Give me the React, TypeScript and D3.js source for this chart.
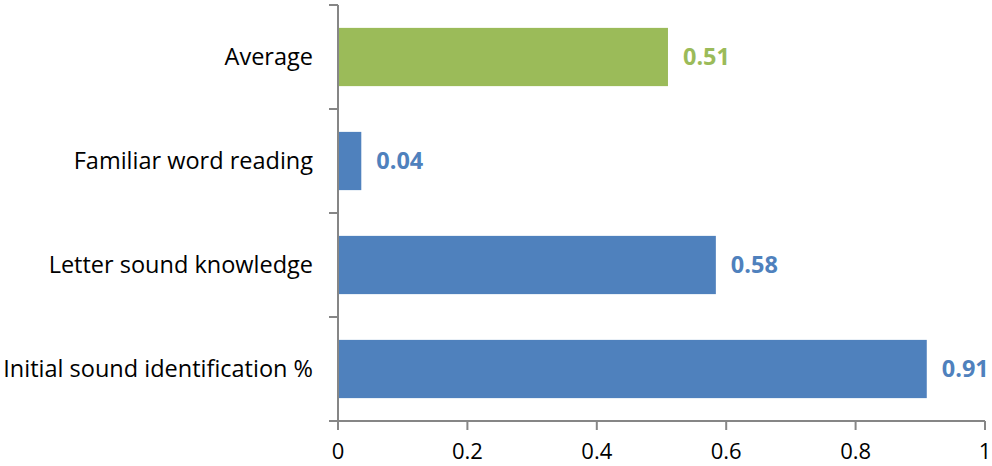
import { useEffect, useRef } from "react";
import * as d3 from "d3";

const categories = ["Average", "Familiar word reading", "Letter sound knowledge", "Initial sound identification %"];
const values = [0.51, 0.036, 0.584, 0.91];
const barColors = ["#9BBB59", "#4F81BD", "#4F81BD", "#4F81BD"];
const xTicks = [0, 0.2, 0.4, 0.6, 0.8, 1];

export default function App() {
  const svgRef = useRef<SVGSVGElement>(null);

  useEffect(() => {
    if (!svgRef.current) return;
    const svg = d3.select(svgRef.current);
    svg.selectAll("*").remove();

    const left = 338, right = 985, top = 5, bottom = 421;
    const font = "'Open Sans', sans-serif";

    const x = d3.scaleLinear().domain([0, 1]).range([left, right]);
    const y = d3.scaleBand().domain(categories).range([top, bottom]).paddingInner(0.44).paddingOuter(0.22);
    const yEdges = d3.scaleLinear().domain([0, categories.length]).range([top, bottom]);

    // bars
    svg.selectAll("rect.bar")
      .data(categories)
      .enter()
      .append("rect")
      .attr("x", x(0))
      .attr("y", d => y(d)!)
      .attr("width", (_, i) => x(values[i]) - x(0))
      .attr("height", y.bandwidth())
      .attr("fill", (_, i) => barColors[i]);

    // value labels
    svg.selectAll("text.val")
      .data(categories)
      .enter()
      .append("text")
      .attr("x", (_, i) => x(values[i]) + 15)
      .attr("y", d => y(d)! + y.bandwidth() / 2)
      .attr("dy", "0.36em")
      .attr("font-family", font)
      .attr("font-weight", "bold")
      .attr("font-size", 23.5)
      .attr("fill", (_, i) => barColors[i])
      .text((_, i) => values[i].toFixed(2));

    const axisColor = "#868686";
    // y axis line and ticks
    svg.append("line")
      .attr("x1", left).attr("x2", left)
      .attr("y1", top).attr("y2", bottom)
      .attr("stroke", axisColor).attr("stroke-width", 2);
    svg.selectAll("line.ytick")
      .data(d3.range(categories.length + 1))
      .enter()
      .append("line")
      .attr("x1", left - 9).attr("x2", left)
      .attr("y1", d => yEdges(d)).attr("y2", d => yEdges(d))
      .attr("stroke", axisColor).attr("stroke-width", 2);

    // x axis
    svg.append("line")
      .attr("x1", left - 9).attr("x2", right)
      .attr("y1", bottom).attr("y2", bottom)
      .attr("stroke", axisColor).attr("stroke-width", 2);
    svg.selectAll("line.xtick")
      .data(xTicks)
      .enter()
      .append("line")
      .attr("x1", d => x(d)).attr("x2", d => x(d))
      .attr("y1", bottom).attr("y2", bottom + 9)
      .attr("stroke", axisColor).attr("stroke-width", 2);
    svg.selectAll("text.xlab")
      .data(xTicks)
      .enter()
      .append("text")
      .attr("x", d => x(d))
      .attr("y", 459)
      .attr("text-anchor", "middle")
      .attr("font-family", font)
      .attr("font-size", 22)
      .attr("fill", "#000")
      .text(d => String(d));

    // category labels
    svg.selectAll("text.cat")
      .data(categories)
      .enter()
      .append("text")
      .attr("x", 313)
      .attr("y", d => y(d)! + y.bandwidth() / 2)
      .attr("dy", "0.36em")
      .attr("text-anchor", "end")
      .attr("font-family", font)
      .attr("font-size", 23.5)
      .attr("fill", "#000")
      .text(d => d);
  }, []);

  return (
    <svg ref={svgRef} width={992} height={466} style={{ position: "absolute", left: 0, top: 0 }}></svg>
  );
}
